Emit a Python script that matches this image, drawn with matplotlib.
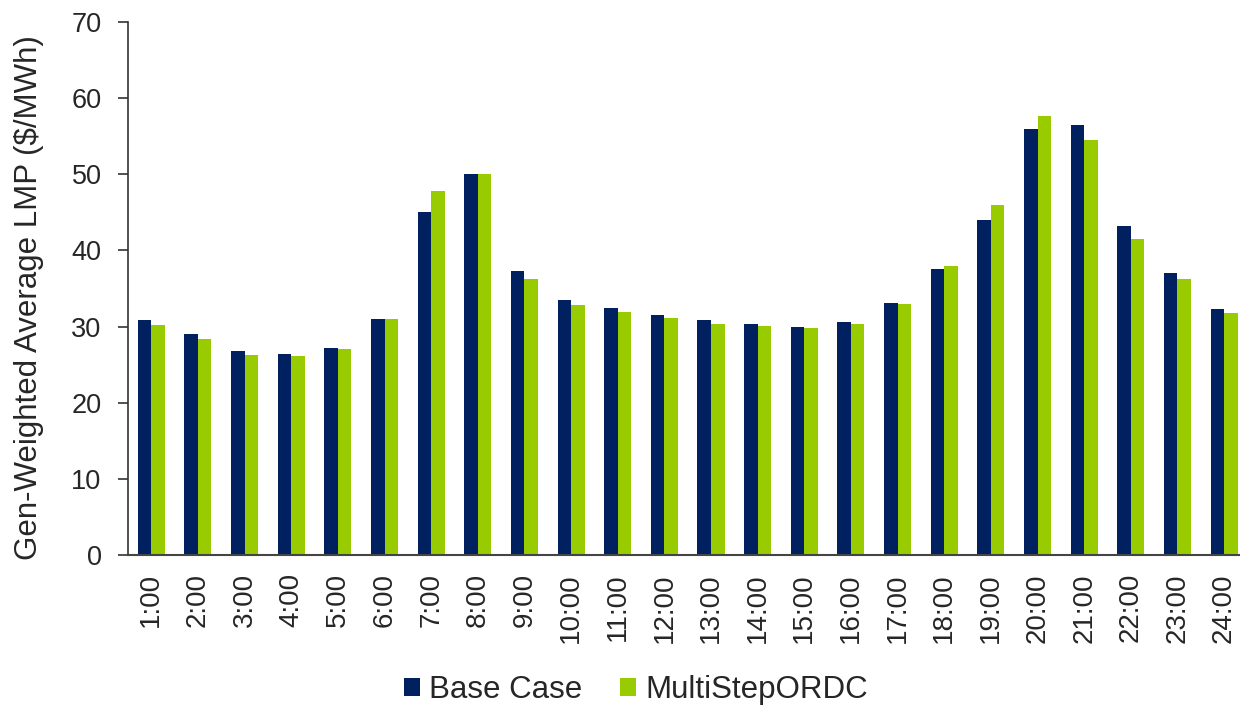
import matplotlib
matplotlib.use("Agg")
import matplotlib.pyplot as plt
import numpy as np

plt.rcParams['font.family'] = ['Liberation Sans', 'DejaVu Sans']

hours = [f"{h}:00" for h in range(1, 25)]
base_case = [30.9, 29.0, 26.8, 26.4, 27.25, 30.95, 45.0, 50.1, 37.25, 33.45,
             32.5, 31.5, 30.8, 30.4, 29.95, 30.6, 33.1, 37.6, 44.0, 56.0,
             56.5, 43.2, 37.0, 32.25]
multistep = [30.25, 28.4, 26.3, 26.1, 27.1, 30.95, 47.85, 50.1, 36.3, 32.8,
             31.9, 31.1, 30.3, 30.1, 29.8, 30.3, 32.95, 38.0, 46.0, 57.6,
             54.5, 41.5, 36.3, 31.8]
yticks = list(range(0, 71, 10))

navy = '#002060'
green = '#99CC00'
txt = '#262626'

fig = plt.figure(figsize=(12.4, 7.06), dpi=100)
ax = fig.add_axes([128/1240, 1 - 555/706, 1 - 128/1240, (555 - 22)/706])

x = np.arange(len(hours))
w = 0.29
ax.bar(x - w/2, base_case, width=w, color=navy, label='Base Case')
ax.bar(x + w/2, multistep, width=w, color=green, label='MultiStepORDC')

ax.set_xlim(-0.5, (1240 - 153) / 46.57)
ax.set_ylim(0, 70)
ax.set_yticks(yticks)
ax.set_xticks(x)
ax.set_xticklabels(hours, rotation=90, fontsize=20, color=txt)
ax.tick_params(axis='x', length=0, pad=13)
ax.tick_params(axis='y', length=7, width=1.2, labelsize=19.5, labelcolor=txt,
               direction='out', pad=12, color='#333333')

for s in ['top', 'right']:
    ax.spines[s].set_visible(False)
ax.spines['left'].set_color('#333333')
ax.spines['left'].set_linewidth(1.2)
ax.spines['bottom'].set_color('#444444')
ax.spines['bottom'].set_linewidth(1.5)

fig.text(29/1240, 1 - 298/706, 'Gen-Weighted Average LMP ($/MWh)', rotation=90,
         ha='center', va='center', fontsize=22.5, color=txt)

fig.legend(loc='center', bbox_to_anchor=(636/1240, 1 - 690/706), ncol=2, frameon=False,
           fontsize=22.5, handlelength=0.5, handleheight=0.5, handletextpad=0.3,
           columnspacing=1.2, borderaxespad=0, borderpad=0, labelcolor=txt)

fig.savefig('out.png', dpi=100)
